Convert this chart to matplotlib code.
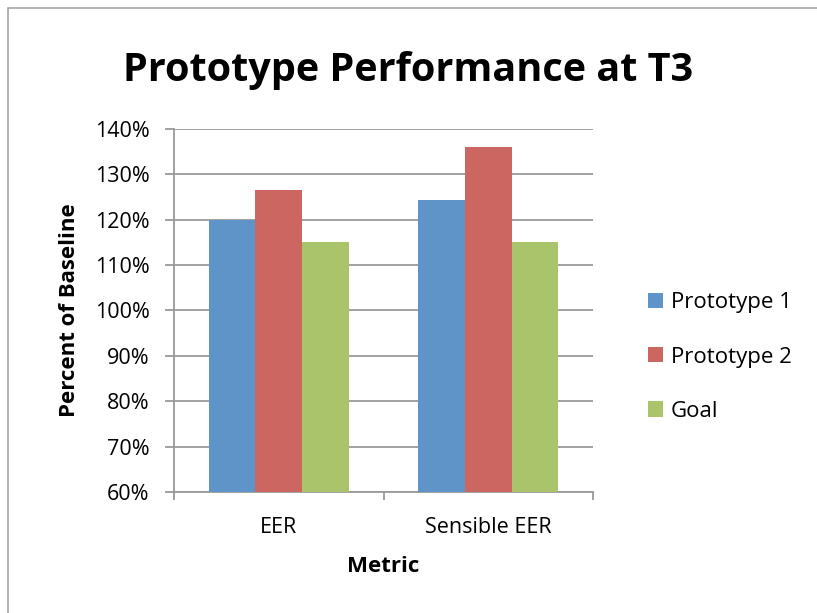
import matplotlib
matplotlib.use("Agg")
import matplotlib.pyplot as plt
from matplotlib.patches import Rectangle
from matplotlib.ticker import FuncFormatter
import numpy as np

plt.rcParams['font.family'] = ['Open Sans', 'DejaVu Sans']

categories = ["EER", "Sensible EER"]
series_names = ["Prototype 1", "Prototype 2", "Goal"]
prototype1 = [120.0, 124.3]
prototype2 = [126.6, 136.0]
goal = [115.0, 115.0]
colors = ["#5E94C8", "#CC6660", "#AAC46C"]
y_ticks = [60, 70, 80, 90, 100, 110, 120, 130, 140]

W, H = 817, 613
fig = plt.figure(figsize=(W / 100, H / 100), dpi=100)

# light frame around the chart area
fig.patches.append(Rectangle((8 / W, -0.1), 1.2, (H - 8) / H + 0.1,
                             transform=fig.transFigure, fill=False,
                             edgecolor="#A6A6A6", linewidth=1.2))

ax = fig.add_axes([174 / W, 1 - 492 / H, (593 - 174) / W, (492 - 129) / H])

x = np.arange(len(categories))
bw = 0.222
for i, (vals, name) in enumerate(zip([prototype1, prototype2, goal], series_names)):
    ax.bar(x + (i - 1) * bw, vals, width=bw, color=colors[i], label=name,
           zorder=3, edgecolor="none")

ax.set_xlim(-0.5, 1.5)
ax.set_ylim(60, 140)
ax.set_yticks(y_ticks)
ax.yaxis.set_major_formatter(FuncFormatter(lambda v, p: f"{int(v)}%"))
ax.grid(axis="y", color="#9A9A9A", linewidth=1.3, zorder=0)
ax.set_axisbelow(True)

for s in ["top", "right"]:
    ax.spines[s].set_visible(False)
for s in ["left", "bottom"]:
    ax.spines[s].set_color("#9A9A9A")
    ax.spines[s].set_linewidth(1.3)

ax.tick_params(axis="y", length=6.5, width=1.3, color="#9A9A9A", labelsize=15.5,
               pad=11, labelcolor="black")
ax.set_xticks([-0.5, 0.5, 1.5])
ax.set_xticklabels([])
ax.tick_params(axis="x", length=6, width=1.3, color="#9A9A9A")
ax.set_xticks(x, minor=True)
ax.set_xticklabels(categories, minor=True)
ax.tick_params(axis="x", which="minor", length=0, labelsize=15.5, pad=18)

ax.set_xlabel("Metric", fontsize=16, fontweight="bold", labelpad=13)
ax.set_ylabel("Percent of Baseline", fontsize=16, fontweight="bold", labelpad=11)

fig.text(0.5, 1 - 81 / H, "Prototype Performance at T3", ha="center",
         va="baseline", fontsize=28.5, fontweight="bold")

leg = fig.legend(loc="center left", bbox_to_anchor=(628 / W, 1 - 357 / H),
                 frameon=False, fontsize=16, handlelength=0.68,
                 handleheight=0.68, handletextpad=0.35, labelspacing=1.5)

fig.savefig("out.png", dpi=100)
